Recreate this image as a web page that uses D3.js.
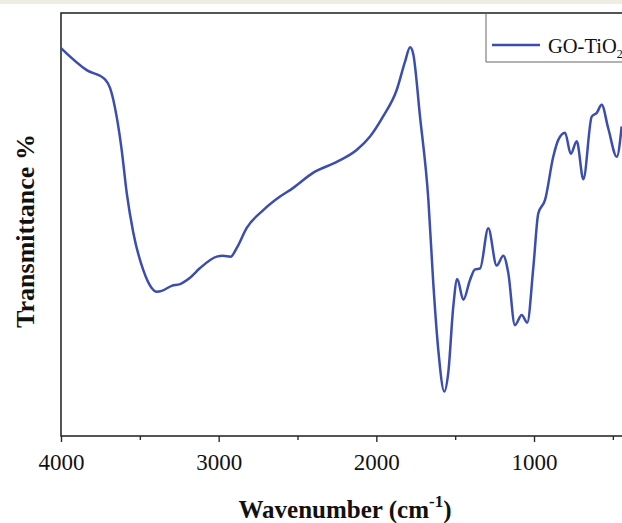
<!DOCTYPE html>
<html>
<head>
<meta charset="utf-8">
<script src="https://cdn.jsdelivr.net/npm/d3@7"></script>
<style>
  body { margin: 0; background: #fff; }
  svg { display: block; }
</style>
</head>
<body>
<svg width="622" height="523"></svg>
<script>
/* FTIR spectrum, values */

var wavenumber = [4000, 3837, 3721, 3689, 3647, 3615, 3583, 3541, 3478, 3425, 3393, 3361, 3298, 3245,
  3182, 3118, 3012, 2973, 2924, 2886, 2822, 2717, 2611, 2529, 2402, 2251, 2125, 2040, 1958, 1871,
  1818, 1786, 1767, 1723, 1670, 1639, 1607, 1569, 1544, 1512, 1487, 1448, 1406, 1374, 1342, 1290,
  1237, 1195, 1163, 1121, 1078, 1043, 1004, 973, 930, 878, 846, 803, 767, 729, 687, 634, 602, 571,
  529, 475, 444];

var transmittance = [91.7, 86.5, 84.3, 82.3, 75.5, 67.6, 57.4, 48.0, 39.2, 35.0, 34.1, 34.3, 35.5, 35.9,
  37.4, 39.7, 42.4, 42.6, 42.4, 44.4, 49.2, 53.4, 56.6, 58.6, 62.2, 64.8, 67.6, 70.8, 75.5, 81.8,
  88.5, 91.9, 90.5, 75.5, 55.8, 36.2, 20.3, 10.5, 14.9, 30.6, 37.1, 32.2, 36.9, 39.4, 39.6, 49.1,
  40.3, 42.6, 38.5, 26.2, 28.6, 26.8, 40.0, 52.6, 55.8, 66.0, 70.0, 71.7, 66.7, 69.7, 60.7, 75.5, 76.4, 78.3,
  72.7, 66.0, 73.2];

var xTicks = [4000, 3000, 2000, 1000];
var xMinorTicks = [3500, 2500, 1500, 500];
var seriesName = "GO-TiO";

var svg = d3.select("svg"),
    plotLeft = 61, plotTop = 13, plotBottom = 436,
    serif = "'Liberation Serif', 'Times New Roman', serif";

/* little beige strip at the very top of the picture */
svg.append("rect").attr("x", 0).attr("y", 0).attr("width", 622).attr("height", 4).attr("fill", "#efece4");

var x = d3.scaleLinear().domain([4000, 400]).range([plotLeft, plotLeft + 3600 * 0.15767]);
var y = d3.scaleLinear().domain([0, 100]).range([plotBottom, plotTop]);

var data = wavenumber.map(function(w, i) { return {w: w, t: transmittance[i]}; });

var line = d3.line()
    .x(function(d) { return x(d.w); })
    .y(function(d) { return y(d.t); })
    .curve(d3.curveMonotoneX);

/* frame */
svg.append("rect")
    .attr("x", plotLeft).attr("y", plotTop)
    .attr("width", x(400) - plotLeft).attr("height", plotBottom - plotTop)
    .attr("fill", "none").attr("stroke", "#2b2b2b").attr("stroke-width", 1.6);

/* minor ticks */
svg.append("g")
    .attr("transform", "translate(0," + plotBottom + ")")
    .call(d3.axisBottom(x).tickValues(xMinorTicks).tickSize(4).tickSizeOuter(0).tickFormat(""))
    .call(function(g) { g.select(".domain").remove(); })
    .selectAll("line").attr("stroke", "#2b2b2b").attr("stroke-width", 1.4);

/* major ticks + labels */
var ax = svg.append("g")
    .attr("transform", "translate(0," + plotBottom + ")")
    .call(d3.axisBottom(x).tickValues(xTicks).tickSize(6).tickSizeOuter(0).tickPadding(12).tickFormat(d3.format("d")));
ax.select(".domain").remove();
ax.selectAll("line").attr("stroke", "#2b2b2b").attr("stroke-width", 1.4);
ax.selectAll("text")
    .attr("fill", "#111")
    .style("font-family", serif)
    .style("font-size", "23px");

/* spectrum */
svg.append("path")
    .datum(data)
    .attr("fill", "none")
    .attr("stroke", "#3b4daf")
    .attr("stroke-width", 2.5)
    .attr("stroke-linejoin", "round")
    .attr("d", line);

/* legend */
svg.append("path")
    .attr("d", "M486," + plotTop + "V62H640")
    .attr("fill", "none").attr("stroke", "#666").attr("stroke-width", 1);
svg.append("line")
    .attr("x1", 492).attr("x2", 540).attr("y1", 45).attr("y2", 45)
    .attr("stroke", "#3b4daf").attr("stroke-width", 2.5);
var lt = svg.append("text")
    .attr("x", 548).attr("y", 53)
    .style("font-family", serif)
    .style("font-size", "20.5px")
    .attr("fill", "#111");
lt.append("tspan").text(seriesName);
lt.append("tspan").attr("dy", 5).style("font-size", "12px").text("2");

/* axis titles */
var xl = svg.append("text")
    .attr("x", 345).attr("y", 518)
    .attr("text-anchor", "middle")
    .style("font-family", serif)
    .style("font-size", "25px").style("font-weight", "bold")
    .attr("fill", "#111");
xl.append("tspan").text("Wavenumber (cm");
xl.append("tspan").attr("dy", -11).style("font-size", "17px").text("-1");
xl.append("tspan").attr("dy", 11).text(")");

svg.append("text")
    .attr("transform", "translate(34,231) rotate(-90)")
    .attr("text-anchor", "middle")
    .style("font-family", serif)
    .style("font-size", "26px").style("font-weight", "bold")
    .attr("fill", "#111")
    .text("Transmittance %");
</script>
</body>
</html>
